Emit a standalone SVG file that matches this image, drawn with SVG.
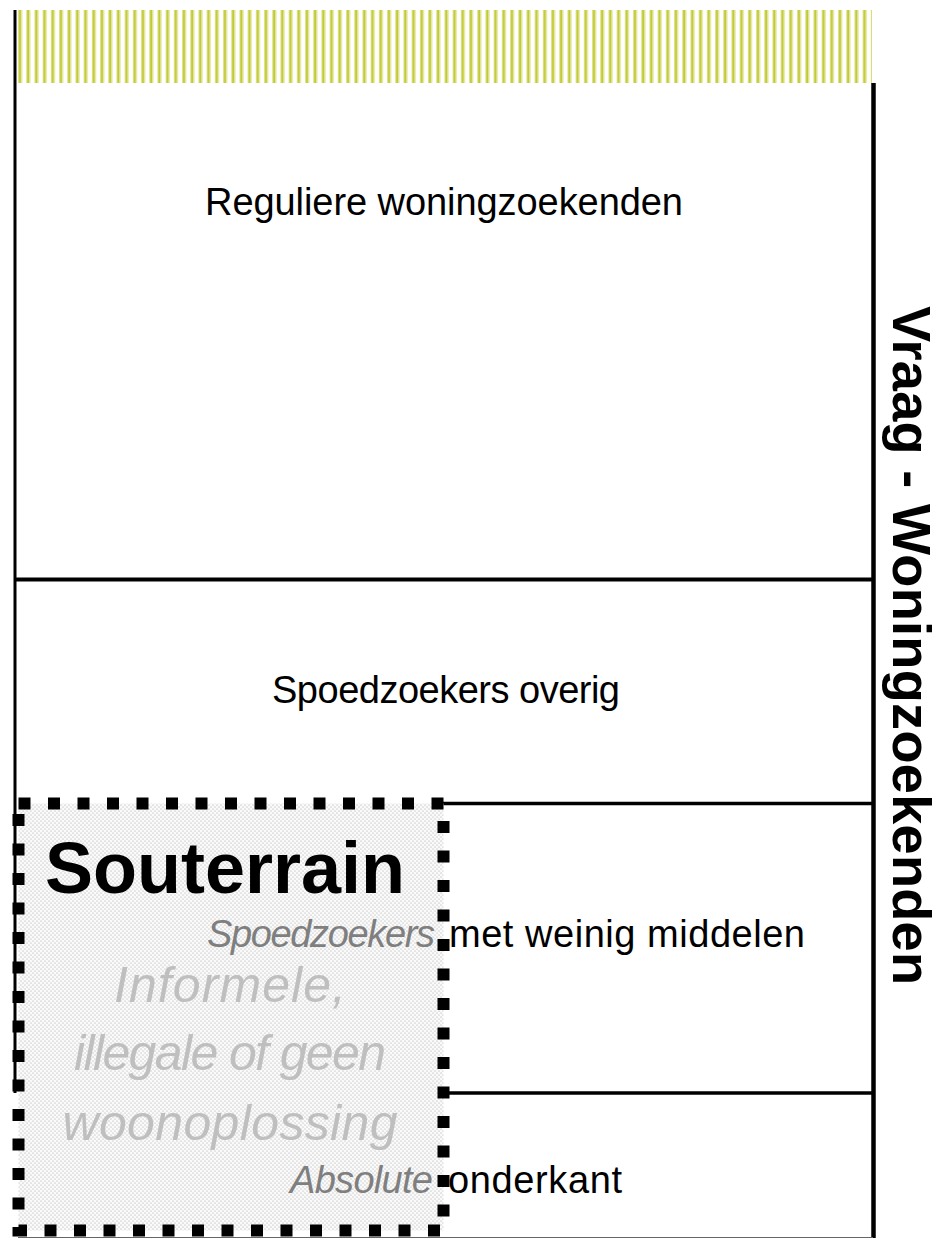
<svg xmlns="http://www.w3.org/2000/svg" width="946" height="1239" viewBox="0 0 946 1239">
<defs>
<pattern id="stripes" x="18" y="0" width="8.2" height="10" patternUnits="userSpaceOnUse">
<rect x="0" y="0" width="1" height="10" fill="#dfe48e"/>
<rect x="1" y="0" width="2.2" height="10" fill="#c2c936"/>
<rect x="3.2" y="0" width="1" height="10" fill="#dfe48e"/>
</pattern>
<pattern id="dots" x="0" y="0" width="4" height="4" patternUnits="userSpaceOnUse">
<rect width="4" height="4" fill="#fafafa"/>
<circle cx="1" cy="1" r="0.85" fill="#d4d4d4"/>
<circle cx="3" cy="3" r="0.85" fill="#d4d4d4"/>
</pattern>
<style>
.t{font-family:"Liberation Sans",Arial,sans-serif;font-size:38px;fill:#000}
.it{font-style:italic;fill:#7f7f7f}
.big{font-family:"Liberation Sans",Arial,sans-serif;font-weight:bold;font-size:72px;fill:#000}
.inf{font-family:"Liberation Sans",Arial,sans-serif;font-style:italic;font-size:50px;fill:#bfbfbf}
.side{font-family:"Liberation Sans",Arial,sans-serif;font-weight:bold;font-size:54px;fill:#000}
.ln{stroke:#000;fill:none}
</style>
</defs>
<rect width="946" height="1239" fill="#fff"/>
<g id="header">
<rect x="18" y="10" width="854" height="73" fill="url(#stripes)"/>
</g>
<g id="connectors">
<line class="ln" x1="15" y1="10" x2="15" y2="1093" stroke-width="3"/>
<line class="ln" x1="873.5" y1="83" x2="873.5" y2="1238" stroke-width="4.5"/>
<line class="ln" x1="15" y1="579.5" x2="873" y2="579.5" stroke-width="4"/>
<line class="ln" x1="443" y1="803.5" x2="873" y2="803.5" stroke-width="3.5"/>
<line class="ln" x1="443" y1="1093" x2="873" y2="1093" stroke-width="3.5"/>
<line x1="18" y1="1237.5" x2="873" y2="1237.5" stroke="#666" stroke-width="1"/>
</g>
<g id="node-regulier">
<text class="t" x="205" y="215" textLength="478">Reguliere woningzoekenden</text>
</g>
<g id="node-overig">
<text class="t" x="272" y="703" textLength="348">Spoedzoekers overig</text>
</g>
<g id="node-souterrain">
<rect x="18.5" y="803.5" width="425" height="427" fill="url(#dots)"/>
<rect x="18.5" y="803.5" width="425" height="427" fill="none" stroke="#000" stroke-width="12" stroke-dasharray="12 17.5"/>
<text class="big" x="45" y="893" textLength="360">Souterrain</text>
<text class="inf" text-anchor="middle" x="230" y="1002" textLength="232">Informele,</text>
<text class="inf" text-anchor="middle" x="230" y="1070" textLength="312">illegale of geen</text>
<text class="inf" text-anchor="middle" x="230" y="1140" textLength="335">woonoplossing</text>
</g>
<g id="node-weinig">
<text class="t it" x="207" y="947" textLength="228">Spoedzoekers</text>
<text class="t" x="449" y="947" textLength="356">met weinig middelen</text>
</g>
<g id="node-onderkant">
<text class="t it" x="290" y="1193" textLength="143">Absolute</text>
<text class="t" x="448" y="1193" textLength="174">onderkant</text>
</g>
<g id="side-label">
<text class="side" transform="translate(893,306) rotate(90)" textLength="679">Vraag - Woningzoekenden</text>
</g>
</svg>
